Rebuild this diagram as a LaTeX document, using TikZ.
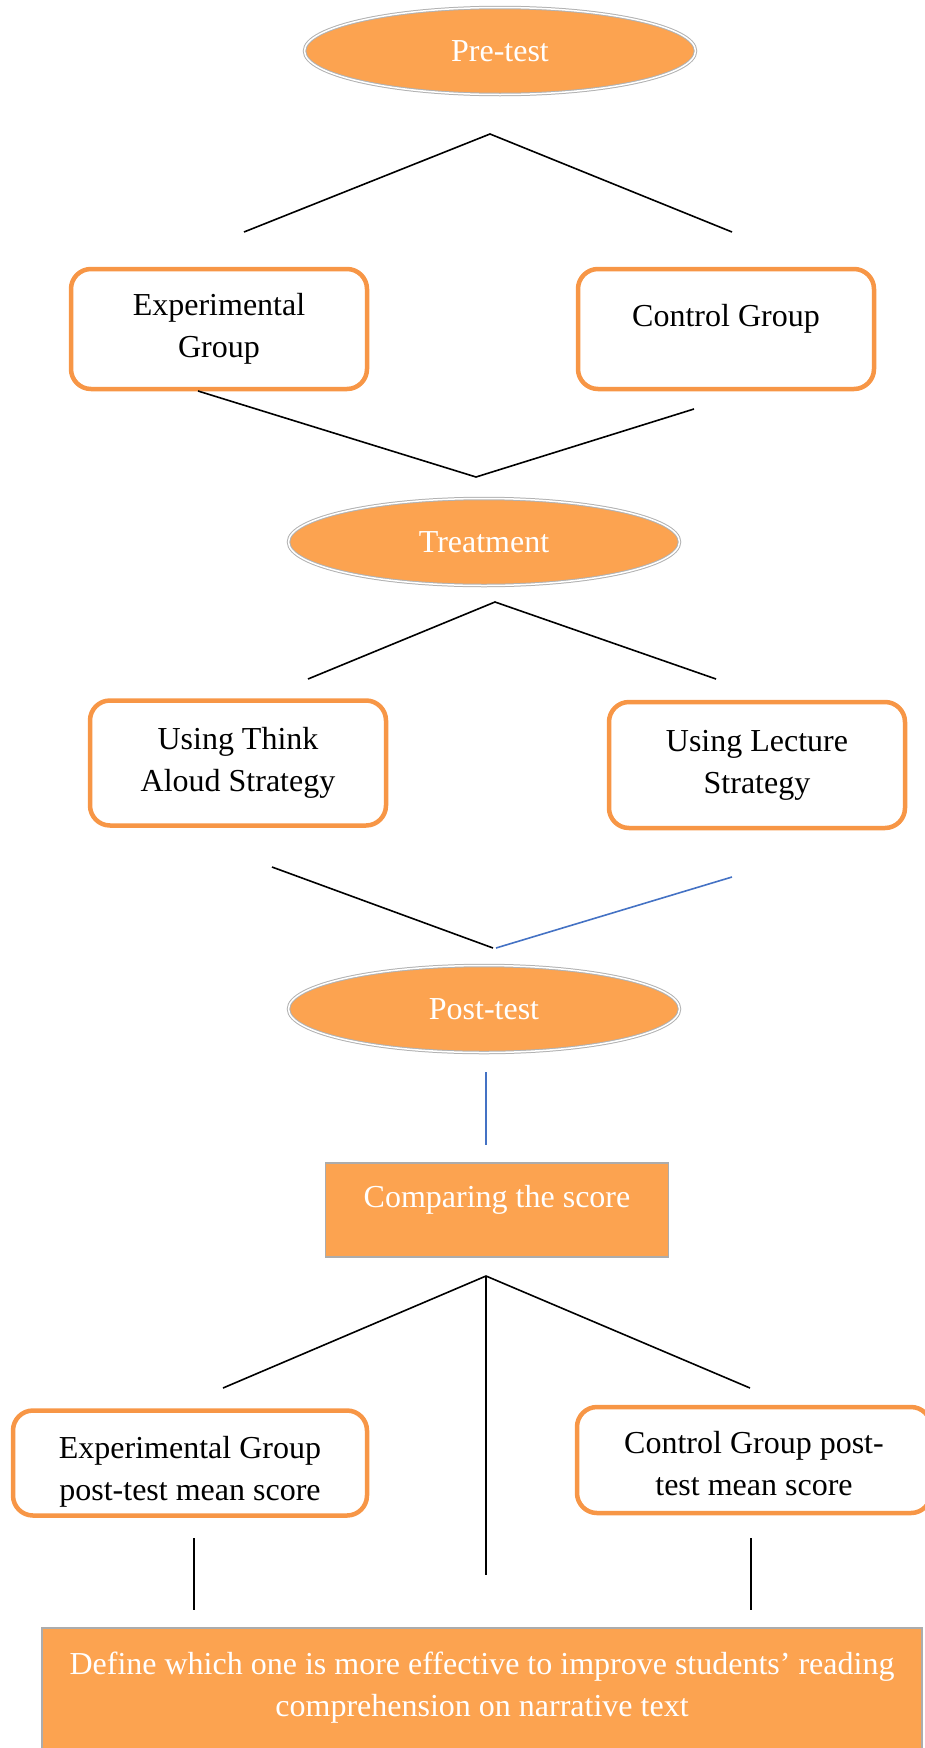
\documentclass[tikz,border=0pt]{standalone}
\usepackage{fontspec}
\setmainfont{Liberation Serif}
\usetikzlibrary{shapes.geometric}
\definecolor{boxorange}{RGB}{247,150,70}
\definecolor{fillorange}{RGB}{252,163,80}
\definecolor{lineblue}{RGB}{68,114,196}

\begin{document}
\begin{tikzpicture}[x=1pt,y=-1pt,
    font=\fontsize{32}{42}\selectfont,
    oval/.style={ellipse, fill=fillorange, draw=gray!60, double=white, double distance=1.5pt,
        line width=1pt, text=white, inner sep=0pt, minimum width=391pt, minimum height=87pt},
    group/.style={rectangle, rounded corners=20pt, draw=boxorange, line width=4.5pt, fill=white,
        align=center, inner sep=0pt, minimum width=296pt, minimum height=120pt},
    bar/.style={rectangle, fill=fillorange, draw=gray!65, line width=1.5pt, text=white,
        align=center, inner sep=0pt},
    link/.style={line width=1.6pt},
    bluelink/.style={link, draw=lineblue}]
        \useasboundingbox (0,0) rectangle (925,1748);
        % tests and groups
        \node[oval] (pre) at (500,51) {Pre-test};
        \node[group] (expgrp) at (219,329) {Experimental\\Group};
        \node[group, text depth=28pt] (ctrgrp) at (726,329) {Control Group};
        \node[oval] (treat) at (484,542) {Treatment};
        \node[group, minimum height=125pt] (think) at (238,763) {Using Think\\Aloud Strategy};
        \node[group, minimum height=126pt] (lecture) at (757,765) {Using Lecture\\Strategy};
        \node[oval] (post) at (484,1009) {Post-test};
        \node[bar, minimum width=343pt, minimum height=94pt, text depth=28pt] (compare) at (497,1210) {Comparing the score};
        \node[group, minimum width=354pt, minimum height=105pt, text height=82pt] (expmean) at (190,1463) {Experimental Group\\post-test mean score};
        \node[group, minimum width=354pt, minimum height=106pt, text height=72pt] (ctrmean) at (754,1460) {Control Group post-\\test mean score};
        \node[bar, minimum width=880pt, minimum height=172pt, text depth=60pt] (define) at (482,1714)
            {Define which one is more effective to improve students’ reading\\comprehension on narrative text};
        % line ends
        \coordinate (pre-split) at (490,134);
        \coordinate (expgrp-in) at (244,232);
        \coordinate (ctrgrp-in) at (732,232);
        \coordinate (expgrp-out) at (198,391);
        \coordinate (ctrgrp-out) at (694,409);
        \coordinate (treat-join) at (476,477);
        \coordinate (treat-split) at (495,602);
        \coordinate (think-in) at (308,679);
        \coordinate (lecture-in) at (716,679);
        \coordinate (think-out) at (272,867);
        \coordinate (lecture-out) at (732,877);
        \coordinate (post-joinl) at (493,948);
        \coordinate (post-joinr) at (496,948);
        \coordinate (post-out) at (486,1072);
        \coordinate (compare-in) at (486,1145);
        \coordinate (compare-split) at (486,1276);
        \coordinate (expmean-in) at (223,1388);
        \coordinate (ctrmean-in) at (750,1388);
        \coordinate (define-mid) at (486,1575);
        \coordinate (expmean-out) at (194,1538);
        \coordinate (define-left) at (194,1610);
        \coordinate (ctrmean-out) at (751,1538);
        \coordinate (define-right) at (751,1610);
        % connectors
        \draw[link] (expgrp-in)--(pre-split)--(ctrgrp-in);
        \draw[link] (expgrp-out)--(treat-join)--(ctrgrp-out);
        \draw[link] (think-in)--(treat-split)--(lecture-in);
        \draw[link] (think-out)--(post-joinl);
        \draw[bluelink] (post-joinr)--(lecture-out);
        \draw[bluelink] (post-out)--(compare-in);
        \draw[link] (expmean-in)--(compare-split)--(ctrmean-in);
        \draw[link] (compare-split)--(define-mid);
        \draw[link] (expmean-out)--(define-left);
        \draw[link] (ctrmean-out)--(define-right);
    \end{tikzpicture}
\end{document}
